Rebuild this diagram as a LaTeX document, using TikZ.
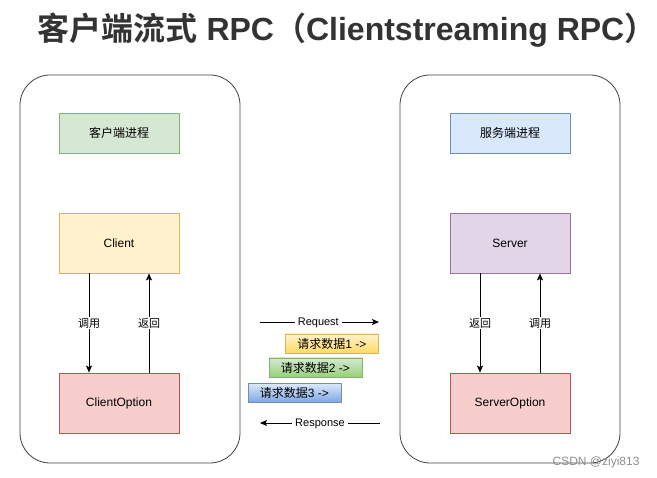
\documentclass[tikz,border=0pt]{standalone}
\usepackage{fontspec}
\setmainfont{Liberation Sans}
\newfontfamily\cjk{Noto Sans CJK SC}[BoldFont={Noto Sans CJK SC Bold}]
\usetikzlibrary{arrows.meta,calc}
\definecolor{titlegray}{HTML}{333333}
\definecolor{gfill}{HTML}{D5E8D4}\definecolor{gline}{HTML}{82B366}\definecolor{gdark}{HTML}{97D077}
\definecolor{yfill}{HTML}{FFF2CC}\definecolor{yline}{HTML}{D6B656}\definecolor{ydark}{HTML}{FFD966}
\definecolor{rfill}{HTML}{F8CECC}\definecolor{rline}{HTML}{B85450}
\definecolor{bfill}{HTML}{DAE8FC}\definecolor{bline}{HTML}{6C8EBF}\definecolor{bdark}{HTML}{7EA6E0}
\definecolor{pfill}{HTML}{E1D5E7}\definecolor{pline}{HTML}{9673A6}
\tikzset{
  proc/.style={rounded corners=30pt,draw=black!75,line width=0.8pt,minimum width=220pt,minimum height=388pt},
  box/.style={draw,line width=0.8pt,minimum width=120pt,minimum height=60pt,font=\fontsize{12}{14}\selectfont},
  tbox/.style={box,minimum height=40pt},
  msg/.style={draw,line width=0.8pt,minimum width=93pt,minimum height=19pt,inner sep=0pt,font=\fontsize{12}{14}\selectfont},
  conn/.style={line width=0.9pt,-{Stealth[length=7pt,width=6pt,inset=1.5pt]}},
  lab/.style={fill=white,inner xsep=3pt,inner ysep=1.5pt,font=\fontsize{11}{13}\selectfont},
}
\begin{document}
\begin{tikzpicture}[x=1pt,y=-1pt]
\useasboundingbox (0,0) rectangle (657,478);
\node[font=\bfseries\fontsize{32}{36}\selectfont,text=titlegray] (title) at (347,30) {{\cjk\bfseries 客户端流式} RPC{\cjk\bfseries （}Clientstreaming RPC{\cjk\bfseries ）}};
\node[proc] (lp) at (130,269) {};
\node[proc] (rp) at (510,269) {};
\node[tbox,fill=gfill,draw=gline] (cp) at (119,133) {\cjk 客户端进程};
\node[box,fill=yfill,draw=yline] (client) at (119,243) {Client};
\node[box,fill=rfill,draw=rline] (co) at (119,403) {ClientOption};
\node[tbox,fill=bfill,draw=bline] (sp) at (510,133) {\cjk 服务端进程};
\node[box,fill=pfill,draw=pline] (server) at (510,243) {Server};
\node[box,fill=rfill,draw=rline] (so) at (510,403) {ServerOption};
\draw[conn] ([xshift=-30pt]client.south) -- node[lab]{\cjk 调用} ([xshift=-30pt]co.north);
\draw[conn] ([xshift=30pt]co.north) -- node[lab]{\cjk 返回} ([xshift=30pt]client.south);
\draw[conn] ([xshift=-30pt]server.south) -- node[lab]{\cjk 返回} ([xshift=-30pt]so.north);
\draw[conn] ([xshift=30pt]so.north) -- node[lab]{\cjk 调用} ([xshift=30pt]server.south);
\coordinate (reqS) at (260,322);
\coordinate (reqE) at (379,322);
\coordinate (resS) at (380,423);
\coordinate (resE) at (260,423);
\draw[conn] (reqS) -- node[lab,pos=0.49,yshift=-1pt]{Request} (reqE);
\draw[conn] (resS) -- node[lab,pos=0.5,yshift=-1pt]{Response} (resE);
\node[msg,top color=yfill,bottom color=ydark,draw=yline] (m1) at (332,343.5) {{\cjk 请求数据}1 ->};
\node[msg,top color=gfill,bottom color=gdark,draw=gline] (m2) at (315.5,367.5) {{\cjk 请求数据}2 ->};
\node[msg,top color=bfill,bottom color=bdark,draw=bline] (m3) at (294.5,393) {{\cjk 请求数据}3 ->};
\node[text=black!45,font=\fontsize{12}{14}\selectfont,anchor=east] (wm) at (643,462) {CSDN @ziyi813};
\end{tikzpicture}
\end{document}
